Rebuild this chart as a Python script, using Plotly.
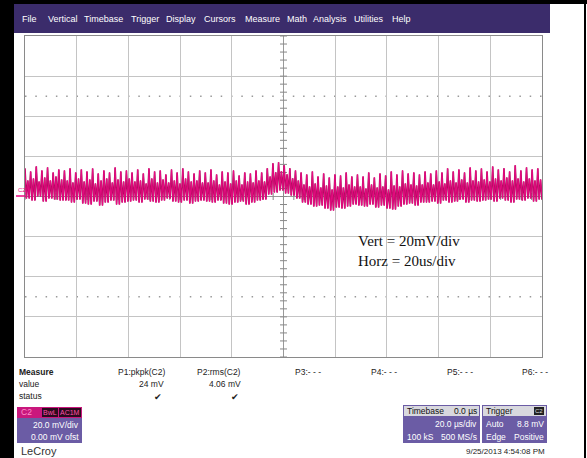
import numpy as np
import plotly.graph_objects as go

W, H = 587, 458

# ---------------- data (mV) ----------------
peaks_mv = [14, 12.5, 15, 13, 14.5, 12, 13.5,
            13, 14, 12, 13.5, 12.5, 14, 11.5, 13, 12, 14.5, 12.5, 13,
            12, 13.5, 11.5, 14, 12.5, 13, 11, 13.5, 12, 14, 12.5, 11.5, 13,
            12, 13.5, 11, 12.5, 12, 13, 10.5, 12, 11.5, 13, 12,
            14, 16.5, 17, 15.5, 14, 13,
            12, 11, 12.5, 10, 11.5, 9.5, 11, 10.5, 12, 10,
            11, 10, 12, 9.5, 11.5, 10.5, 12.5, 11, 13, 11.5, 12, 11,
            12.5, 11.5, 13, 12, 14, 12.5, 13.5, 12, 14.5, 13,
            14, 12.5, 15, 13.5, 14, 12.5, 15.5, 13, 14.5, 13.5, 14]
troughs_mv = [-1, -2, 0, -2.5, -1, -1.5, -2,
              -2, -3, -1.5, -3.5, -4, -2.5, -4.5, -3, -2, -4, -3, -2.5,
              -2, -3, -1.5, -2.5, -3, -2, -1, -2.5, -3, -2, -3.5, -2.5, -2,
              -2.5, -3, -2, -3.5, -4, -3, -2.5, -4, -3, -2, -1.5,
              1, 2, 3, 1.5, 0.5, -1,
              -3, -4, -5, -4.5, -6, -7, -5.5, -6, -5, -4,
              -4.5, -5, -4, -5.5, -4.5, -6, -6.5, -5, -4, -3.5, -4.5, -3,
              -3, -2.5, -3.5, -2, -3, -2.5, -1.5, -3, -2, -2.5,
              -2, -1.5, -2.5, -1, -2, -3, -1.5, -2, -1, -2.5, -1.5]
sub_peaks_mv = [8, 9, 7.5, 9.5, 8, 10, 8.5,
                8, 7, 9, 7.5, 8.5, 6.5, 8, 9, 7, 8.5, 7.5, 9,
                7.5, 8, 6.5, 9, 7, 8.5, 7, 8, 6.5, 9, 7.5, 8, 7,
                7, 8, 6, 7.5, 6.5, 8, 6, 7.5, 7, 8, 7.5,
                10, 12, 12.5, 11, 9, 8,
                6, 5, 6.5, 4.5, 5.5, 3.5, 5, 4.5, 6, 5,
                5, 4, 6, 4.5, 5, 3.5, 5.5, 5, 6.5, 6, 5.5, 6,
                7, 6, 7.5, 6.5, 8, 7, 8.5, 7, 8, 7.5,
                8.5, 7.5, 9, 8, 9.5, 8, 9, 7.5, 9, 8, 8.5]

menu_items = ["File", "Vertical", "Timebase", "Trigger", "Display", "Cursors",
              "Measure", "Math", "Analysis", "Utilities", "Help"]
menu_x = [20, 46, 82, 129, 164, 202, 243, 285, 311, 352, 390]

trigger_level_mv = 8.8
time_div_us = 20
volt_div_mv = 20

# ---------------- helpers ----------------
def px(x):
    return x / W

def py(y):
    return 1 - y / H

vals = []
for p, t, s in zip(peaks_mv, troughs_mv, sub_peaks_mv):
    vals += [p, t, s, t]
t_us = np.linspace(-5 * time_div_us, 5 * time_div_us, len(vals))

fig = go.Figure()

# center-line tick marks of the graticule
fig.add_trace(go.Scatter(x=np.zeros(41), y=np.arange(-80, 81, 4), mode="markers",
                         marker=dict(symbol="line-ew", size=5, line=dict(color="#888", width=1)),
                         hoverinfo="skip", showlegend=False))
fig.add_trace(go.Scatter(x=np.arange(-100, 101, 4), y=np.zeros(51), mode="markers",
                         marker=dict(symbol="line-ns", size=5, line=dict(color="#888", width=1)),
                         hoverinfo="skip", showlegend=False))

# waveform
fig.add_trace(go.Scatter(x=t_us, y=vals, mode="lines",
                         line=dict(color="#9a0c52", width=1.6),
                         hoverinfo="skip", showlegend=False))
fig.add_trace(go.Scatter(x=t_us, y=vals, mode="lines",
                         line=dict(color="#ee0a86", width=0.9),
                         hoverinfo="skip", showlegend=False))

# trigger level arrow (right) and trigger position arrow (bottom)
fig.add_trace(go.Scatter(x=[101.8], y=[trigger_level_mv], mode="markers", cliponaxis=False,
                         marker=dict(symbol="triangle-left", size=7, color="#e8067f"),
                         hoverinfo="skip", showlegend=False))
fig.add_trace(go.Scatter(x=[0], y=[-82.5], mode="markers", cliponaxis=False,
                         marker=dict(symbol="triangle-up", size=7, color="#e8067f"),
                         hoverinfo="skip", showlegend=False))

xdom = [px(25), px(542)]
ydom = [py(357), py(36)]

fig.update_xaxes(domain=xdom, range=[-5 * time_div_us, 5 * time_div_us], dtick=time_div_us,
                 showgrid=True, gridcolor="#c4c4c4", gridwidth=1, zeroline=True,
                 zerolinecolor="#999", zerolinewidth=1, showticklabels=False, ticks="",
                 showline=True, linecolor="#8a8a8a", linewidth=1, mirror=True, fixedrange=True)
fig.update_yaxes(domain=ydom, range=[-4 * volt_div_mv, 4 * volt_div_mv], dtick=volt_div_mv,
                 showgrid=True, gridcolor="#c4c4c4", gridwidth=1, zeroline=True,
                 zerolinecolor="#999", zerolinewidth=1, showticklabels=False, ticks="",
                 showline=True, linecolor="#8a8a8a", linewidth=1, mirror=True, fixedrange=True)

shapes = []
# dotted rows
for yv in (50, -50):
    shapes.append(dict(type="line", xref="x", yref="y", x0=-100, x1=100, y0=yv, y1=yv,
                       line=dict(color="#999", width=1.5, dash="1.5px,8.8px"), layer="below"))

def rect(x0, y0, x1, y1, color, line=None):
    d = dict(type="rect", xref="paper", yref="paper", x0=px(x0), x1=px(x1),
             y0=py(y1), y1=py(y0), fillcolor=color, line=dict(width=0))
    if line:
        d["line"] = line
    shapes.append(d)

# frame / menu bar
rect(0, 0, 14, 458, "#000")
rect(14, 0, 587, 4, "#000")
rect(14, 4, 550, 33, "#3b2c6b")
rect(584, 0, 586, 458, "#000")
# C2 short ground marker
shapes.append(dict(type="line", xref="paper", yref="paper", x0=px(16), x1=px(25),
                   y0=py(196), y1=py(196), line=dict(color="#e8067f", width=1.5)))

# C2 channel box
rect(17, 407, 82, 443, "#6b5ca5")
rect(17, 407, 82, 418, "#c9177d")
rect(42, 408, 58, 417, "#2a0b1e")
rect(59, 408, 81, 417, "#2a0b1e")
# timebase box
rect(403, 405, 480, 443, "#6b5ca5")
rect(404, 406, 479, 416, "#d8d8de")
# trigger box
rect(482, 405, 547, 443, "#6b5ca5")
rect(483, 406, 546, 416, "#d8d8de")
rect(534, 407, 544, 415, "#222")

fig.update_layout(shapes=shapes)

ann = []
def text(x, y, s, size=8.5, color="#222", anchor="left", family="Liberation Sans, Arial", bold=False):
    if bold:
        s = "<b>" + s + "</b>"
    ann.append(dict(x=px(x), y=py(y), xref="paper", yref="paper", text=s, showarrow=False,
                    xanchor=anchor, yanchor="middle",
                    font=dict(size=size, color=color, family=family)))

for m, xm in zip(menu_items, menu_x):
    text(xm, 19, m, size=9, color="#ffffff")

# C2 label on left
text(16, 190, "C2", size=6, color="#e8067f")

# on-screen annotation
text(356, 241, "Vert = 20mV/div", size=15, color="#111", family="Liberation Serif, Times New Roman")
text(356, 261, "Horz = 20us/div", size=15, color="#111", family="Liberation Serif, Times New Roman")

# measure table
text(17, 372, "Measure", bold=True)
text(17, 384, "value")
text(17, 396, "status")
text(167, 372, "P1:pkpk(C2)", anchor="right")
text(166, 384, "24 mV", anchor="right")
text(164, 397, "✔", anchor="right", size=9)
text(243, 372, "P2:rms(C2)", anchor="right")
text(243, 384, "4.06 mV", anchor="right")
text(241, 397, "✔", anchor="right", size=9)
text(293, 372, "P3:- - -")
text(369, 372, "P4:- - -")
text(445, 372, "P5:- - -")
text(520, 372, "P6:- - -")

# C2 box texts
text(19, 412, "C2", size=8.5, color="#ff8fcb")
text(50, 412.5, "BwL", size=7, color="#ff4fa8", anchor="center")
text(70, 412.5, "AC1M", size=7, color="#ff4fa8", anchor="center")
text(81, 425, "20.0 mV/div", color="#ffffff", anchor="right")
text(81, 437, "0.00 mV ofst", color="#ffffff", anchor="right")
text(19, 451, "LeCroy", size=11, color="#333")

# timebase box texts
text(405, 411, "Timebase", color="#111")
text(479, 411, "0.0 µs", color="#111", anchor="right")
text(479, 424, "20.0 µs/div", color="#ffffff", anchor="right")
text(405, 437, "100 kS", color="#ffffff")
text(479, 437, "500 MS/s", color="#ffffff", anchor="right")
# trigger box texts
text(484, 411, "Trigger", color="#111")
text(539, 411, "C2", size=6, color="#ddd", anchor="center")
text(484, 424, "Auto", color="#ffffff")
text(546, 424, "8.8 mV", color="#ffffff", anchor="right")
text(484, 437, "Edge", color="#ffffff")
text(546, 437, "Positive", color="#ffffff", anchor="right")

text(547, 451, "9/25/2013 4:54:08 PM", size=8, anchor="right")

fig.update_layout(annotations=ann, width=W, height=H,
                  margin=dict(l=0, r=0, t=0, b=0),
                  paper_bgcolor="#ffffff", plot_bgcolor="#ffffff", showlegend=False)

fig.write_html("out.html", config={"displayModeBar": False},
               post_script="document.body.style.margin='0px';document.body.style.overflow='hidden';")
